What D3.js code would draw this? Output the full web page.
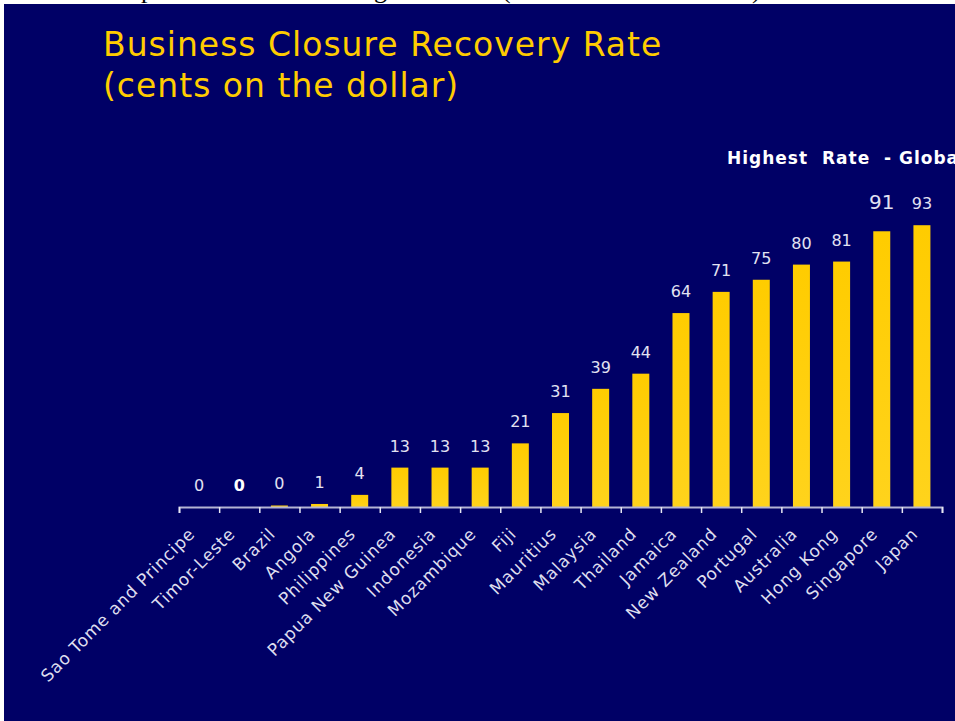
<!DOCTYPE html>
<html>
<head>
<meta charset="utf-8">
<script src="https://cdn.jsdelivr.net/npm/d3@7"></script>
<style>
  html, body { margin: 0; padding: 0; background: #ffffff; }
  svg { display: block; }
  text { white-space: pre; }
</style>
</head>
<body>
<script>
// ---- data ----
const categories = ["Sao Tome and Principe", "Timor-Leste", "Brazil", "Angola", "Philippines",
  "Papua New Guinea", "Indonesia", "Mozambique", "Fiji", "Mauritius", "Malaysia", "Thailand",
  "Jamaica", "New Zealand", "Portugal", "Australia", "Hong Kong", "Singapore", "Japan"];
const values = [0, 0, 0.5, 1, 4, 13, 13, 13, 21, 31, 39, 44, 64, 71, 75, 80, 81, 91, 93];
const valueLabels = ["0", "0", "0", "1", "4", "13", "13", "13", "21", "31", "39", "44",
  "64", "71", "75", "80", "81", "91", "93"];
const titleLines = ["Business Closure Recovery Rate", "(cents on the dollar)"];
const noteText = "Highest  Rate  - Global";
const yDomain = [0, 100];

// ---- style constants ----
const W = 955, H = 721;
const NAVY = "#000066";
const YELLOW = "#FFCC00";
const FONT = "DejaVu Sans, Verdana, sans-serif";
const boldLabel = "Timor-Leste";
const bigLabel = "Singapore";

const svg = d3.select("body").append("svg").attr("width", W).attr("height", H);

const defs = svg.append("defs");
const grad = defs.append("linearGradient").attr("id", "barGrad")
  .attr("x1", 0).attr("y1", 0).attr("x2", 0).attr("y2", 1);
grad.append("stop").attr("offset", "0%").attr("stop-color", "#FFCC00");
grad.append("stop").attr("offset", "100%").attr("stop-color", "#FFD31C");
defs.append("clipPath").attr("id", "topClip").append("rect")
  .attr("x", 0).attr("y", 0).attr("width", W).attr("height", 4);

// white page with a navy slide
svg.append("rect").attr("width", W).attr("height", H).attr("fill", "#ffffff");
svg.append("rect").attr("x", 4).attr("y", 4).attr("width", W - 4).attr("height", H - 4).attr("fill", NAVY);

// clipped descenders of the page text above the slide
const topText = svg.append("g").attr("clip-path", "url(#topClip)")
  .attr("font-family", "Liberation Serif, serif").attr("font-size", 26).attr("fill", "#000");
[["p", 141], ["g", 374], ["(", 502], [")", 752]].forEach(([t, x]) =>
  topText.append("text").attr("x", x).attr("y", -2).text(t));

// title
const title = svg.append("g").attr("font-family", FONT)
  .attr("font-size", 33).attr("letter-spacing", 1).attr("fill", YELLOW);
titleLines.forEach((t, i) =>
  title.append("text").attr("x", 103).attr("y", 56 + i * 41).text(t));

// note
svg.append("text").attr("x", 727).attr("y", 164)
  .attr("font-family", FONT).attr("font-weight", "bold")
  .attr("font-size", 17).attr("letter-spacing", 1).attr("fill", "#ffffff").text(noteText);

// scales
const axisY = 507;
const x = d3.scaleBand().domain(categories).range([179, 942]).padding(0);
const xIdx = d3.scaleLinear().domain([0, categories.length]).range([179, 942]);
const y = d3.scaleLinear().domain(yDomain).range([axisY, axisY - 303]);
const barW = x.step() * 0.423;

// bars
svg.append("g").selectAll("rect").data(categories).join("rect")
  .attr("x", (d) => x(d) + (x.step() - barW) / 2)
  .attr("width", barW)
  .attr("y", (d, i) => y(values[i]))
  .attr("height", (d, i) => y(0) - y(values[i]))
  .attr("fill", "url(#barGrad)");

// value labels
svg.append("g").selectAll("text").data(categories).join("text")
  .attr("x", (d) => x(d) + x.step() / 2)
  .attr("y", (d, i) => y(values[i]) - (d === bigLabel ? 22 : 16))
  .attr("text-anchor", "middle")
  .attr("font-family", FONT)
  .attr("font-size", (d) => d === bigLabel ? 20 : 16)
  .attr("font-weight", (d) => d === boldLabel ? "bold" : "normal")
  .attr("fill", (d) => d === boldLabel ? "#ffffff" : "#e2e2f2")
  .text((d, i) => valueLabels[i]);

// axis: tick marks between categories
const tickAxis = svg.append("g").attr("transform", `translate(0,${axisY})`)
  .call(d3.axisBottom(xIdx).tickValues(d3.range(categories.length + 1)).tickSize(6).tickFormat(""));
tickAxis.select(".domain").attr("stroke", "#b4b4d4").attr("stroke-width", 2);
tickAxis.selectAll(".tick line").attr("stroke", "#e6e6f2").attr("stroke-width", 1.5);

// category labels
const catAxis = svg.append("g").attr("transform", `translate(0,${axisY})`)
  .call(d3.axisBottom(x).tickSize(0));
catAxis.select(".domain").remove();
catAxis.selectAll(".tick text")
  .attr("x", 0).attr("y", 0).attr("dy", 0)
  .attr("text-anchor", "end")
  .attr("transform", "translate(-3,28) rotate(-45)")
  .attr("font-family", FONT)
  .attr("font-size", 17)
  .attr("letter-spacing", 0.8)
  .attr("fill", "#dedeee");
</script>
</body>
</html>
